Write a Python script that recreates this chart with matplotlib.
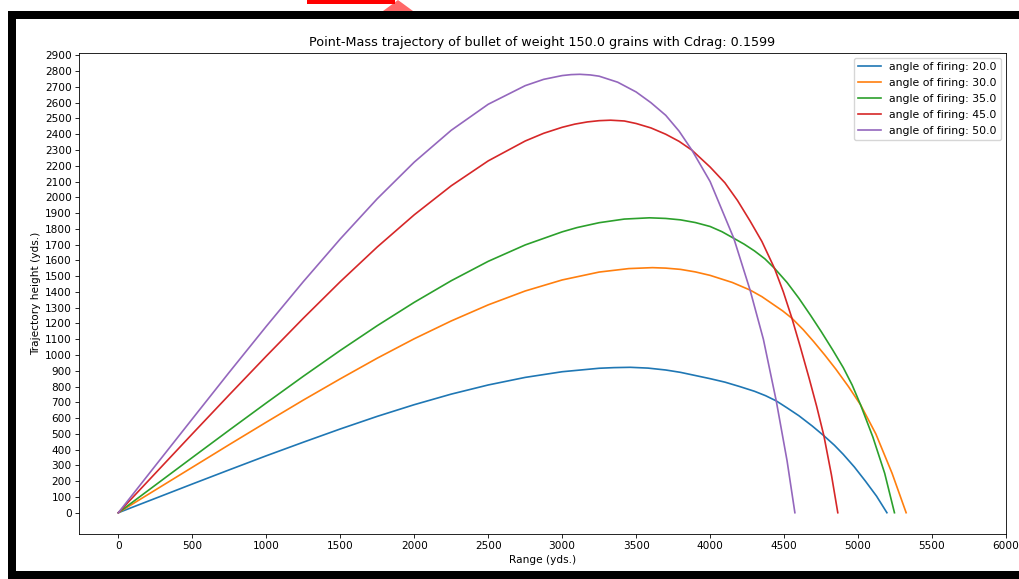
import matplotlib
matplotlib.use("Agg")
import matplotlib.pyplot as plt
from matplotlib.patches import Rectangle, Polygon

# Trajectory samples (range in yards, height in yards) for each firing angle
angles = [20.0, 30.0, 35.0, 45.0, 50.0]

range_20 = [0, 250, 500, 750, 1000, 1250, 1500, 1750, 2000, 2250, 2500, 2750, 3000, 3250, 3350, 3460,
            3580, 3700, 3800, 3900, 4000, 4100, 4200, 4300, 4375, 4447, 4520, 4600, 4690, 4769,
            4840, 4900, 4975, 5050, 5125, 5195]
height_20 = [0, 91, 182, 272, 361, 447, 531, 611, 685, 752, 810, 858, 894, 916, 920, 922,
             917, 905, 890, 870, 850, 828, 800, 770, 742, 709, 665, 615, 550, 488,
             428, 370, 290, 200, 105, 0]

range_30 = [0, 250, 500, 750, 1000, 1250, 1500, 1750, 2000, 2250, 2500, 2750, 3000, 3250, 3450, 3610,
            3700, 3800, 3900, 4000, 4150, 4270, 4350, 4420, 4490, 4553, 4630, 4700, 4775, 4850,
            4935, 5017, 5120, 5230, 5325]
height_30 = [0, 144, 288, 432, 574, 714, 849, 980, 1103, 1216, 1318, 1406, 1476, 1526, 1548, 1554,
             1551, 1543, 1527, 1505, 1460, 1412, 1370, 1325, 1280, 1233, 1160, 1085, 1000, 910,
             800, 684, 500, 250, 0]

range_35 = [0, 250, 500, 750, 1000, 1250, 1500, 1750, 2000, 2250, 2500, 2750, 3000, 3100, 3250, 3420,
            3590, 3700, 3800, 3900, 4000, 4080, 4160, 4230, 4300, 4370, 4435, 4520, 4600, 4680,
            4750, 4830, 4900, 4960, 5017, 5100, 5180, 5246]
height_35 = [0, 175, 350, 524, 696, 865, 1029, 1186, 1334, 1471, 1594, 1698, 1781, 1808, 1839, 1862,
             1870, 1866, 1857, 1840, 1815, 1782, 1740, 1703, 1660, 1610, 1550, 1460, 1360, 1250,
             1150, 1030, 920, 810, 684, 480, 250, 0]

range_45 = [0, 250, 500, 750, 1000, 1250, 1500, 1750, 2000, 2250, 2500, 2750, 2875, 3000, 3085,
            3170, 3250, 3327, 3420, 3500, 3600, 3700, 3790, 3877, 4000, 4100, 4185, 4270, 4350,
            4435, 4495, 4553, 4610, 4670, 4720, 4769, 4820, 4863]
height_45 = [0, 250, 500, 748, 993, 1233, 1465, 1685, 1889, 2073, 2231, 2357, 2406, 2444, 2464,
             2478, 2486, 2489, 2484, 2468, 2440, 2400, 2355, 2299, 2192, 2092, 1980, 1850, 1720,
             1550, 1400, 1233, 1050, 850, 675, 488, 240, 0]

range_50 = [0, 250, 500, 750, 1000, 1250, 1500, 1750, 2000, 2250, 2500, 2750, 2875, 3000, 3060,
            3119, 3190, 3250, 3375, 3500, 3600, 3700, 3790, 3877, 4000, 4160, 4270, 4360, 4447,
            4520, 4573]
height_50 = [0, 298, 595, 891, 1182, 1465, 1736, 1991, 2223, 2425, 2590, 2708, 2748, 2772, 2778,
             2780, 2776, 2768, 2730, 2668, 2600, 2520, 2420, 2299, 2100, 1740, 1412, 1100, 709,
             330, 0]

ranges = [range_20, range_30, range_35, range_45, range_50]
heights = [height_20, height_30, height_35, height_45, height_50]

x_ticks = list(range(0, 6001, 500))
y_ticks = list(range(0, 2901, 100))

W, H = 1019, 579
fig = plt.figure(figsize=(W / 100, H / 100), dpi=100)
fig.patch.set_facecolor("white")


def fx(px):
    return px / W


def fy(py):
    return 1 - py / H


# Screen-capture frame around the figure
frame = dict(transform=fig.transFigure, facecolor="black", edgecolor="none", zorder=10)
fig.patches.append(Rectangle((fx(8), fy(19)), 1 - fx(8), fy(11) - fy(19), **frame))
fig.patches.append(Rectangle((fx(8), 0), fx(16) - fx(8), fy(11), **frame))
fig.patches.append(Rectangle((fx(8), 0), 1 - fx(8), fy(571), **frame))
fig.patches.append(Rectangle((fx(307), fy(4)), fx(395) - fx(307), 1 - fy(4),
                             transform=fig.transFigure, facecolor="#ff0000",
                             edgecolor="none", zorder=10))
fig.patches.append(Polygon([(fx(383), fy(11)), (fx(413), fy(11)), (fx(398), fy(0))],
                           closed=True, transform=fig.transFigure, facecolor="#ff6868",
                           edgecolor="none", zorder=9))

ax = fig.add_axes([fx(79), fy(534), fx(1006) - fx(79), fy(52.7) - fy(534)])

fs = 7.6
for ang, xs, ys in zip(angles, ranges, heights):
    ax.plot(xs, ys, lw=1.2, label=f"angle of firing: {ang}")

ax.set_xticks(x_ticks)
ax.set_yticks(y_ticks)
ax.set_xlim(-266, 6000)
ax.set_ylim(-135, 2917)
ax.tick_params(labelsize=fs, length=2.7, width=0.6, pad=2.6)
for sp in ax.spines.values():
    sp.set_linewidth(0.6)

ax.set_title("Point-Mass trajectory of bullet of weight 150.0 grains with Cdrag: 0.1599",
             fontsize=9.2, pad=4.6)
ax.set_xlabel("Range (yds.)", fontsize=fs, labelpad=2.6)
ax.set_ylabel("Trajectory height (yds.)", fontsize=fs, labelpad=2.6)
ax.legend(loc="upper right", fontsize=7.8, handlelength=2.1, labelspacing=0.55,
          borderaxespad=0.45)

fig.savefig("out.png", dpi=100)
